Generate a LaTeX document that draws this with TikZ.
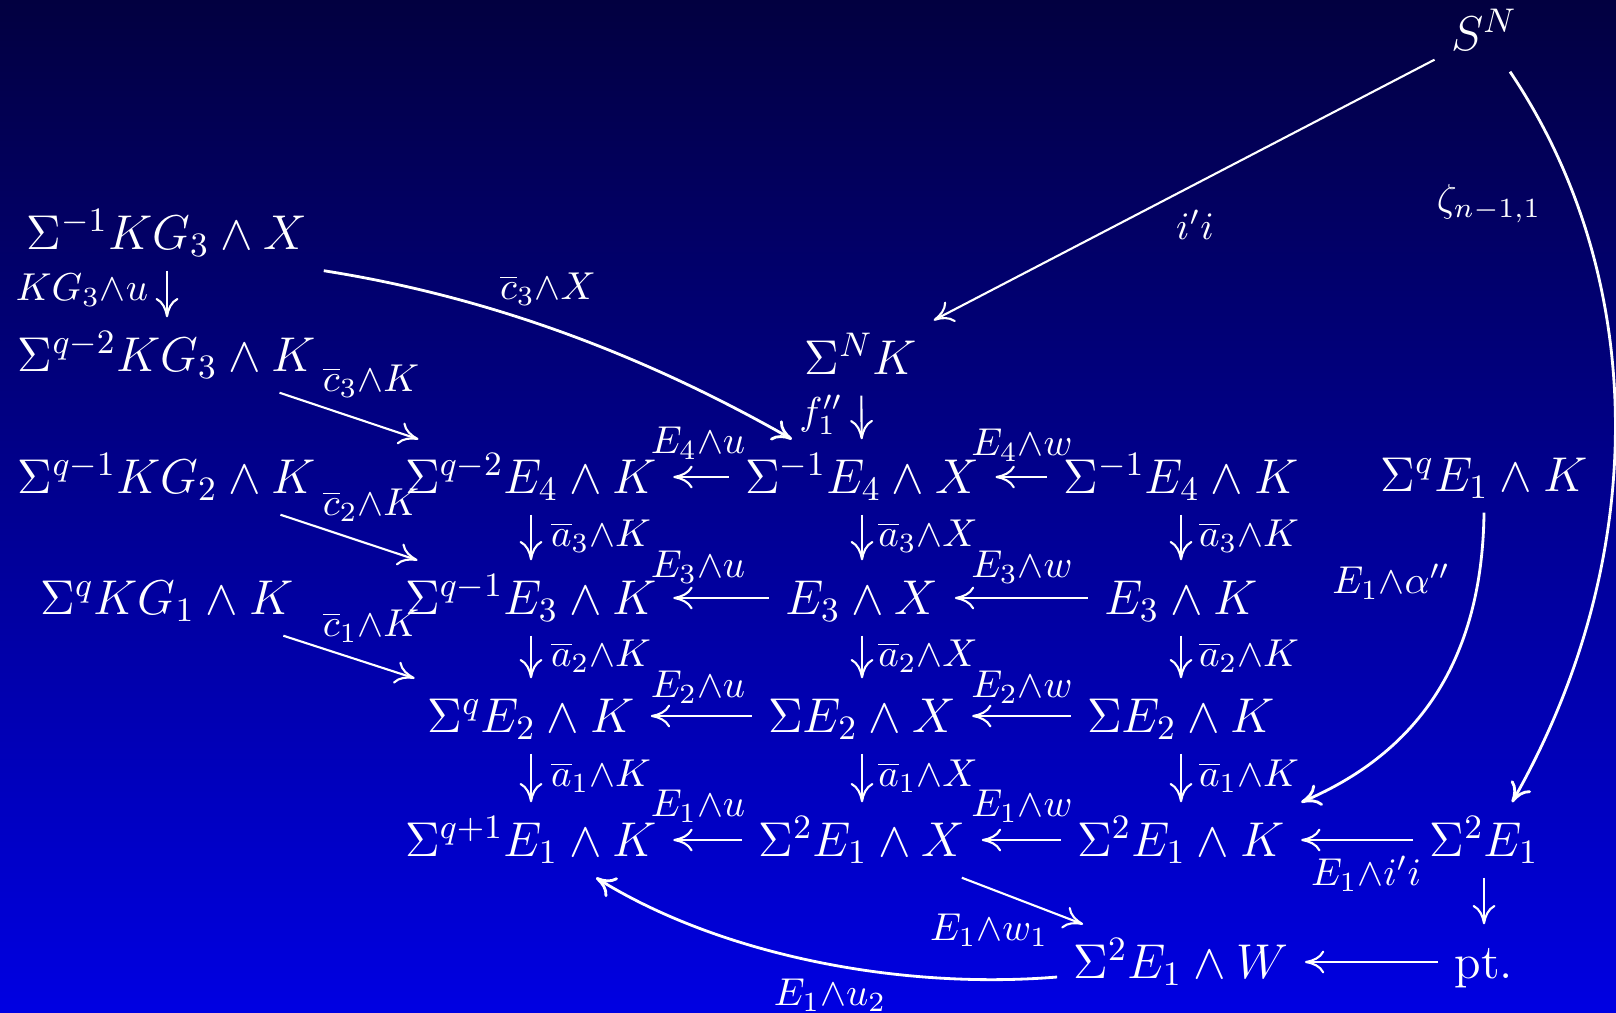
\documentclass[tikz,border=0pt]{standalone}
\usepackage{fix-cm}
\usetikzlibrary{arrows.meta}
\definecolor{bgtop}{RGB}{2,0,64}
\definecolor{bgbot}{RGB}{0,0,226}
\newcommand\lbt[1]{$\scriptstyle #1$}
\tikzset{
  obj/.style={text=white, font=\fontsize{13.9}{16}\selectfont, inner xsep=4.5pt, inner ysep=0.115cm, text height=0.42cm, text depth=0.09cm},
  lbl/.style={text=white, font=\fontsize{15.8}{18}\selectfont, inner sep=0pt},
  arr/.style={draw=white, line width=0.6pt, -{Computer Modern Rightarrow[length=5.5pt,width=6.5pt]}},
  carr/.style={arr, line width=0.8pt},
}
\begin{document}
\begin{tikzpicture}[x=0.01cm,y=-0.01cm]
\shade[top color=bgtop,bottom color=bgbot] (0,0) rectangle (1616,1013);
\useasboundingbox (0,0) rectangle (1616,1013);
% objects
\node[obj] (SN) at (1484,34) {$S^N$};
\node[obj] (a0) at (167,233) {$\Sigma^{-1}KG_3\wedge X$};
\node[obj] (a1) at (167,355) {$\Sigma^{q-2}KG_3\wedge K$};
\node[obj] (a2) at (167,477) {$\Sigma^{q-1}KG_2\wedge K$};
\node[obj] (a3) at (167,598) {$\Sigma^{q}KG_1\wedge K$};
\node[obj] (SNK) at (861,358) {$\Sigma^N K$};
\node[obj] (m1) at (531,477) {$\Sigma^{q-2}E_4\wedge K$};
\node[obj] (x1) at (862,477) {$\Sigma^{-1}E_4\wedge X$};
\node[obj] (k1) at (1181,477) {$\Sigma^{-1}E_4\wedge K$};
\node[obj] (e1) at (1484,475) {$\Sigma^{q}E_1\wedge K$};
\node[obj] (m2) at (531,598) {$\Sigma^{q-1}E_3\wedge K$};
\node[obj] (x2) at (862,598) {$E_3\wedge X$};
\node[obj] (k2) at (1181,598) {$E_3\wedge K$};
\node[obj] (m3) at (531,716) {$\Sigma^{q}E_2\wedge K$};
\node[obj] (x3) at (862,716) {$\Sigma E_2\wedge X$};
\node[obj] (k3) at (1181,716) {$\Sigma E_2\wedge K$};
\node[obj] (m4) at (531,840) {$\Sigma^{q+1}E_1\wedge K$};
\node[obj] (x4) at (862,840) {$\Sigma^2E_1\wedge X$};
\node[obj] (k4) at (1181,840) {$\Sigma^2E_1\wedge K$};
\node[obj] (e4) at (1484,840) {$\Sigma^2E_1$};
\node[obj] (w5) at (1181,962) {$\Sigma^2E_1\wedge W$};
\node[obj] (pt) at (1484,962) {pt.};
% straight arrows
\draw[arr] (a0) -- (a1);
\draw[arr] (SNK) -- (x1);
\draw[arr] (SN) -- (SNK);
\draw[arr] (x1) -- (m1);
\draw[arr] (k1) -- (x1);
\draw[arr] (x2) -- (m2);
\draw[arr] (k2) -- (x2);
\draw[arr] (x3) -- (m3);
\draw[arr] (k3) -- (x3);
\draw[arr] (x4) -- (m4);
\draw[arr] (k4) -- (x4);
\draw[arr] (e4) -- (k4);
\draw[arr] (pt) -- (w5);
\draw[arr] (e4) -- (pt);
\draw[arr] (m1) -- (m2);
\draw[arr] (m2) -- (m3);
\draw[arr] (m3) -- (m4);
\draw[arr] (x1) -- (x2);
\draw[arr] (x2) -- (x3);
\draw[arr] (x3) -- (x4);
\draw[arr] (k1) -- (k2);
\draw[arr] (k2) -- (k3);
\draw[arr] (k3) -- (k4);
\draw[arr] (a1) -- (m1);
\draw[arr] (a2) -- (m2);
\draw[arr] (a3) -- (m3);
\draw[arr] ([xshift=-0.2cm]x4.south east) -- ([xshift=0.26cm]w5.north west);
% curved arrows
\draw[carr] (a0.south east) .. controls (491,297) and (646,356) .. ([xshift=-0.7cm]x1.north);
\draw[carr] (e1.south) .. controls (1482,680) and (1400,760) .. (k4.north east);
\draw[carr] ([xshift=0.26cm]SN.south) .. controls (1650,280) and (1650,560) .. ([xshift=0.28cm]e4.north);
\draw[carr] ([yshift=-0.15cm]w5.west) .. controls (900,990) and (720,955) .. ([xshift=0.65cm]m4.south);
% labels
\node[lbl] (lKG) at (82,290) {\lbt{KG_3\wedge u}};
\node[lbl] (lf) at (821,415) {\lbt{f_1''}};
\node[lbl] (lii) at (1195,225) {\lbt{i'i}};
\node[lbl] (lz) at (1489,204) {\lbt{\zeta_{n-1,1}}};
\node[lbl] (lc3x) at (548,289) {\lbt{\overline{c}_3\wedge X}};
\node[lbl] (lc3) at (371,381) {\lbt{\overline{c}_3\wedge K}};
\node[lbl] (lc2) at (371,505) {\lbt{\overline{c}_2\wedge K}};
\node[lbl] (lc1) at (371,626) {\lbt{\overline{c}_1\wedge K}};
\node[lbl] (lu4) at (698,443) {\lbt{E_4\wedge u}};
\node[lbl] (lw4) at (1022,445) {\lbt{E_4\wedge w}};
\node[lbl] (lu3) at (698,567) {\lbt{E_3\wedge u}};
\node[lbl] (lw3) at (1022,567) {\lbt{E_3\wedge w}};
\node[lbl] (lu2) at (698,687) {\lbt{E_2\wedge u}};
\node[lbl] (lw2) at (1022,687) {\lbt{E_2\wedge w}};
\node[lbl] (lu1) at (698,806) {\lbt{E_1\wedge u}};
\node[lbl] (lw1) at (1022,806) {\lbt{E_1\wedge w}};
\node[lbl] (la3m) at (601,536) {\lbt{\overline{a}_3\wedge K}};
\node[lbl] (la3x) at (928,536) {\lbt{\overline{a}_3\wedge X}};
\node[lbl] (la3k) at (1249,536) {\lbt{\overline{a}_3\wedge K}};
\node[lbl] (la2m) at (601,656) {\lbt{\overline{a}_2\wedge K}};
\node[lbl] (la2x) at (928,656) {\lbt{\overline{a}_2\wedge X}};
\node[lbl] (la2k) at (1249,656) {\lbt{\overline{a}_2\wedge K}};
\node[lbl] (la1m) at (601,776) {\lbt{\overline{a}_1\wedge K}};
\node[lbl] (la1x) at (928,776) {\lbt{\overline{a}_1\wedge X}};
\node[lbl] (la1k) at (1249,776) {\lbt{\overline{a}_1\wedge K}};
\node[lbl] (lal) at (1391,582) {\lbt{E_1\wedge\alpha''}};
\node[lbl] (lei) at (1366,874) {\lbt{E_1\wedge i'i}};
\node[lbl] (lew) at (989,930) {\lbt{E_1\wedge w_1}};
\node[lbl] (leu) at (830,995) {\lbt{E_1\wedge u_2}};
\end{tikzpicture}
\end{document}
